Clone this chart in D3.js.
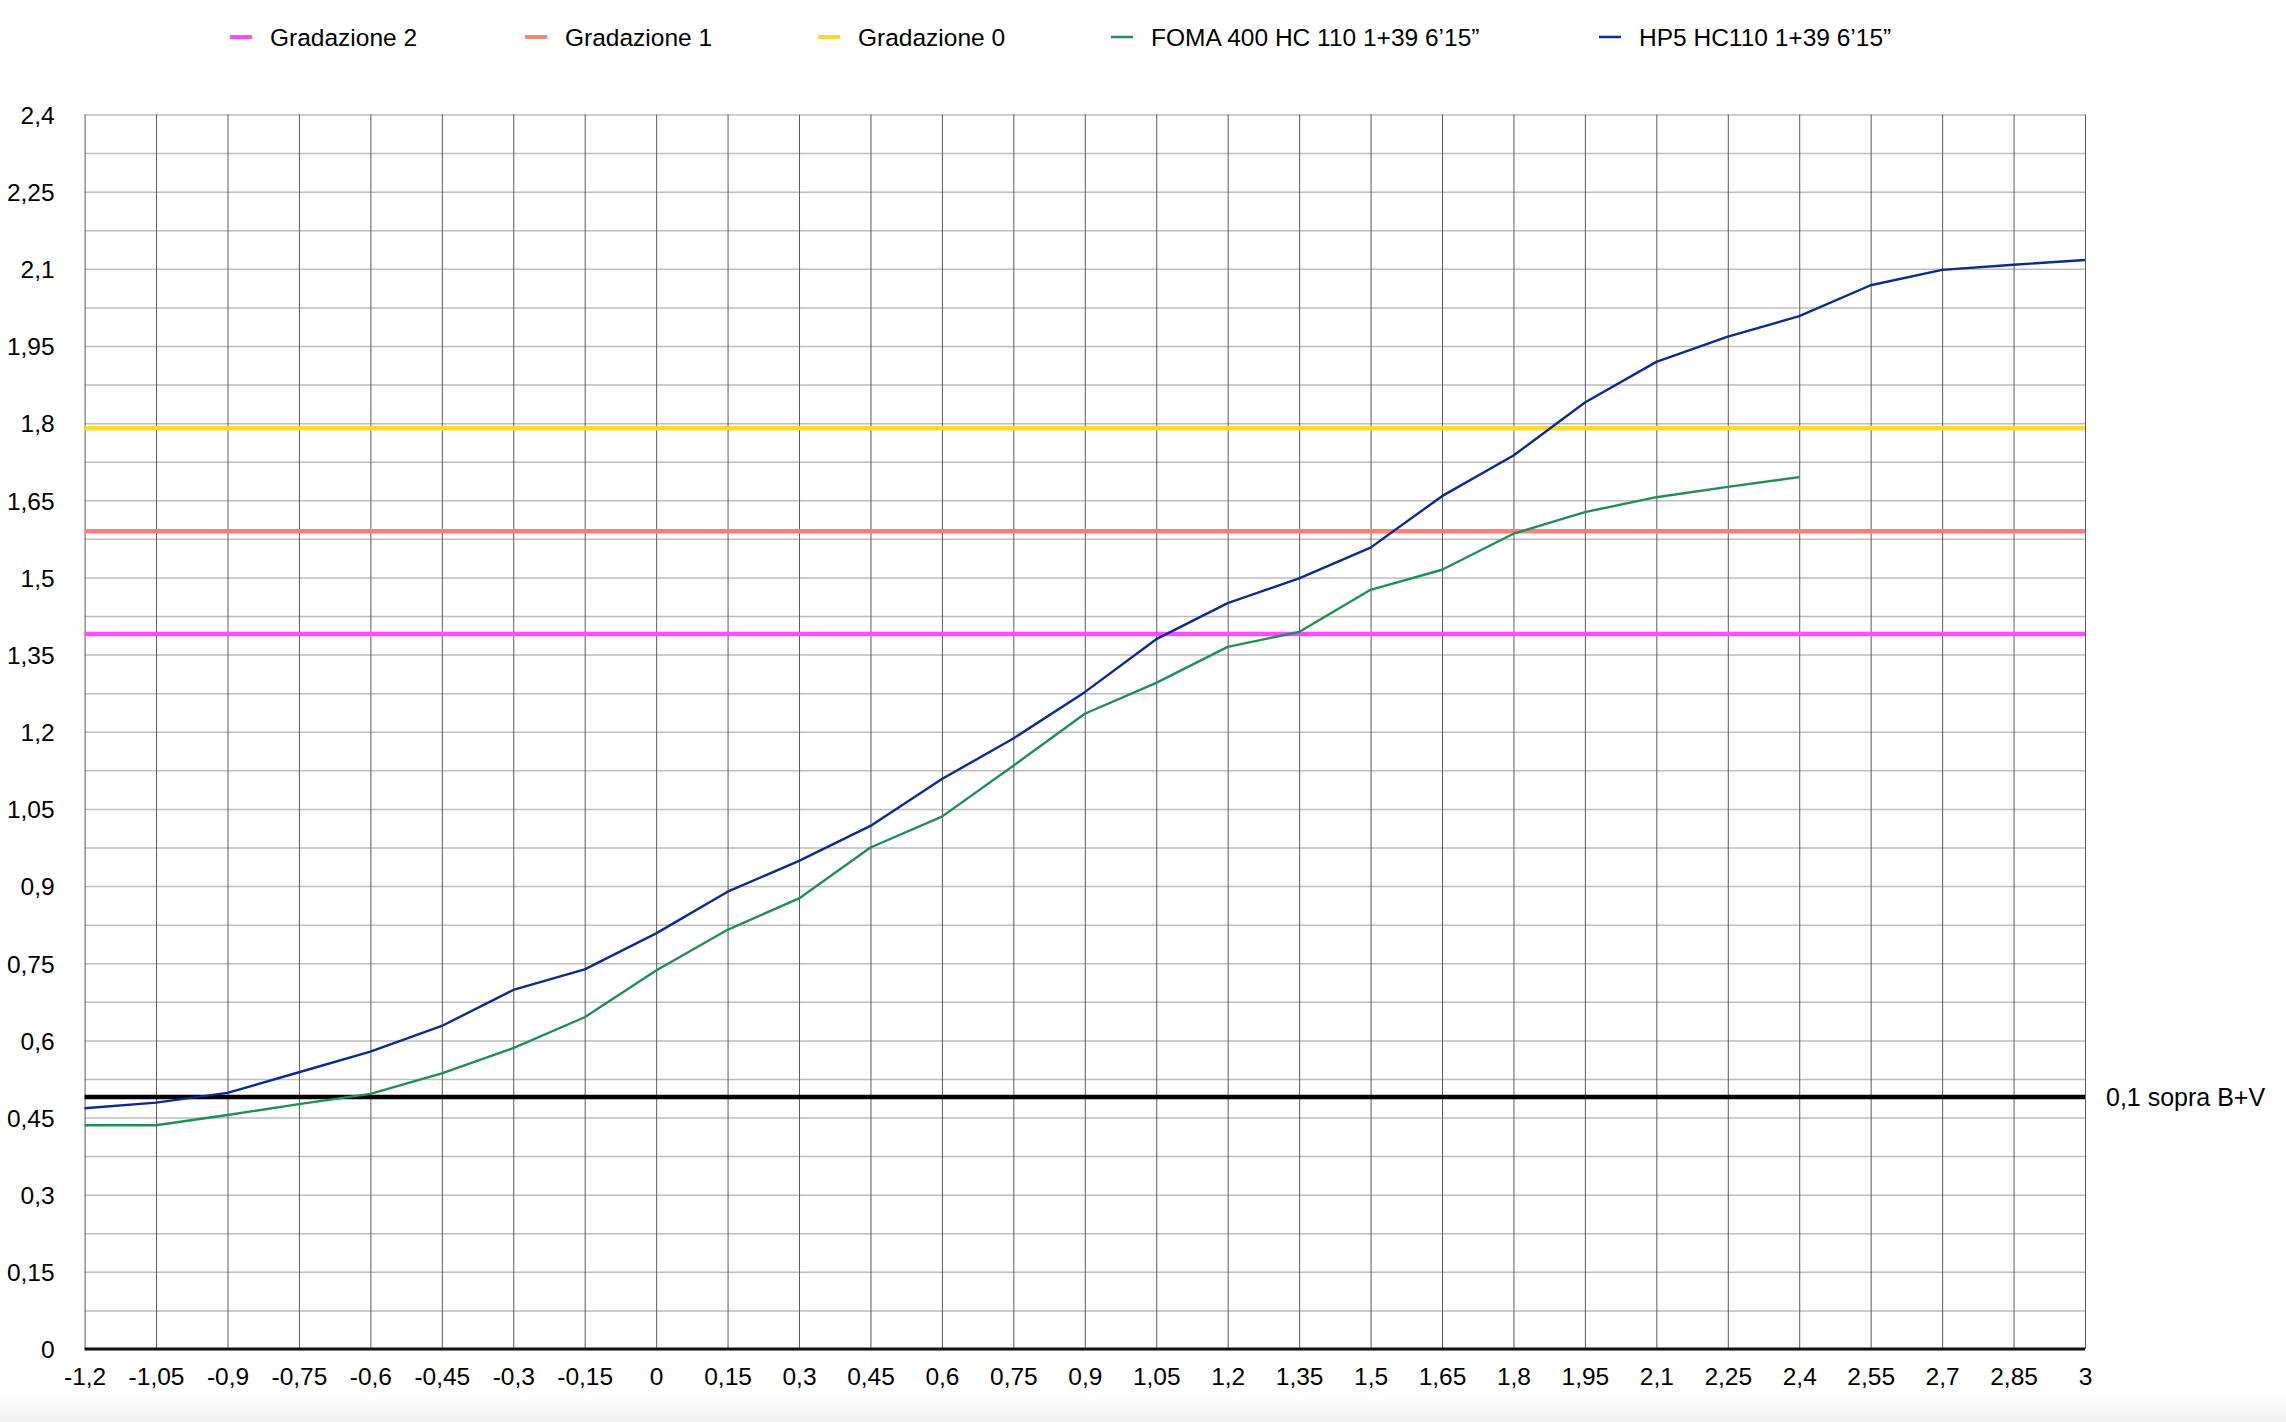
<!DOCTYPE html>
<html>
<head>
<meta charset="utf-8">
<script src="https://cdn.jsdelivr.net/npm/d3@7"></script>
<style>
  html, body { margin: 0; padding: 0; background: #fff; }
  svg { display: block; }
  text { font-family: "Liberation Sans", Helvetica, Arial, sans-serif; }
</style>
</head>
<body>
<div id="chart"></div>
<script>
// ---- DATA ----
const xValues = [-1.2, -1.05, -0.9, -0.75, -0.6, -0.45, -0.3, -0.15, 0, 0.15, 0.3, 0.45, 0.6, 0.75, 0.9,
                 1.05, 1.2, 1.35, 1.5, 1.65, 1.8, 1.95, 2.1, 2.25, 2.4, 2.55, 2.7, 2.85, 3];
const hp5Values = [0.468, 0.479, 0.498, 0.538, 0.578, 0.628, 0.698, 0.738, 0.808, 0.889, 0.949, 1.017, 1.108, 1.187, 1.277,
                   1.380, 1.450, 1.498, 1.558, 1.658, 1.737, 1.840, 1.919, 1.968, 2.008, 2.068, 2.098, 2.108, 2.117];
const fomaValues = [0.435, 0.435, 0.455, 0.476, 0.496, 0.536, 0.585, 0.645, 0.736, 0.815, 0.876, 0.975, 1.035, 1.134, 1.235,
                    1.295, 1.365, 1.394, 1.476, 1.515, 1.585, 1.627, 1.656, 1.676, 1.695];
const gradazione2 = 1.39;
const gradazione1 = 1.59;
const gradazione0 = 1.79;
const bvLevel = 0.49;
const bvLabel = "0,1 sopra B+V";
const xTickLabels = ["-1,2","-1,05","-0,9","-0,75","-0,6","-0,45","-0,3","-0,15","0","0,15","0,3","0,45","0,6","0,75","0,9",
                     "1,05","1,2","1,35","1,5","1,65","1,8","1,95","2,1","2,25","2,4","2,55","2,7","2,85","3"];
const yTicks = [0, 0.15, 0.3, 0.45, 0.6, 0.75, 0.9, 1.05, 1.2, 1.35, 1.5, 1.65, 1.8, 1.95, 2.1, 2.25, 2.4];
const yTickLabels = ["0","0,15","0,3","0,45","0,6","0,75","0,9","1,05","1,2","1,35","1,5","1,65","1,8","1,95","2,1","2,25","2,4"];
const yMinorTicks = [0.075, 0.225, 0.375, 0.525, 0.675, 0.825, 0.975, 1.125, 1.275, 1.425, 1.575, 1.725, 1.875, 2.025, 2.175, 2.325];
const legendLabels = ["Gradazione 2", "Gradazione 1", "Gradazione 0", "FOMA 400 HC 110 1+39 6’15”", "HP5 HC110 1+39 6’15”"];

// ---- LAYOUT ----
const W = 2286, H = 1422;
const mLeft = 84.6, mRight = 2085, mTop = 114.5, mBottom = 1349;
const colors = {
  g2: "#ff4dff", g1: "#ff8078", g0: "#ffd92f", foma: "#1f8f55", hp5: "#0d2a8e"
};

const svg = d3.select("#chart").append("svg").attr("width", W).attr("height", H);

// bottom faint gradient
const defs = svg.append("defs");
const grad = defs.append("linearGradient").attr("id", "bg").attr("x1", 0).attr("y1", 0).attr("x2", 0).attr("y2", 1);
grad.append("stop").attr("offset", "0%").attr("stop-color", "#ffffff");
grad.append("stop").attr("offset", "100%").attr("stop-color", "#f1f1f1");
svg.append("rect").attr("x", 0).attr("y", 1392).attr("width", W).attr("height", H - 1392).attr("fill", "url(#bg)");

const x = d3.scaleLinear().domain([-1.2, 3]).range([mLeft, mRight]);
const y = d3.scaleLinear().domain([0, 2.4]).range([mBottom, mTop]);

// horizontal grid (minor + major), light grey
const hGrid = svg.append("g").attr("transform", `translate(${mLeft},0)`)
  .call(d3.axisLeft(y).tickValues(yTicks.concat(yMinorTicks)).tickSize(-(mRight - mLeft)).tickFormat(""));
hGrid.select(".domain").remove();
hGrid.selectAll("line").attr("stroke", "#bdbdbd").attr("stroke-width", 1.5);

// vertical grid, darker
const vGrid = svg.append("g").attr("transform", `translate(0,${mBottom})`)
  .call(d3.axisBottom(x).tickValues(xValues).tickSize(-(mBottom - mTop)).tickFormat(""));
vGrid.select(".domain").remove();
vGrid.selectAll("line").attr("stroke", "#5a5a5a").attr("stroke-width", 1);

// y labels
const yAxis = svg.append("g").attr("transform", `translate(${mLeft},0)`)
  .call(d3.axisLeft(y).tickValues(yTicks).tickSize(0).tickPadding(30)
        .tickFormat((d, i) => yTickLabels[i]));
yAxis.select(".domain").remove();
yAxis.selectAll("text").attr("font-size", 24.5).attr("fill", "#000")
  .attr("font-family", '"Liberation Sans", Helvetica, Arial, sans-serif')
  .attr("dy", "0.36em");

// x labels
const xAxis = svg.append("g").attr("transform", `translate(0,${mBottom})`)
  .call(d3.axisBottom(x).tickValues(xValues).tickSize(0).tickPadding(0)
        .tickFormat((d, i) => xTickLabels[i]));
xAxis.select(".domain").remove();
xAxis.selectAll("text").attr("font-size", 24.5).attr("fill", "#000")
  .attr("font-family", '"Liberation Sans", Helvetica, Arial, sans-serif')
  .attr("dy", null).attr("y", 36);

// zero axis line
svg.append("line").attr("x1", mLeft).attr("x2", mRight).attr("y1", y(0)).attr("y2", y(0))
  .attr("stroke", "#111").attr("stroke-width", 3);

const domainX = x.domain();
const hline = (val, color, w) => svg.append("path")
  .datum(domainX)
  .attr("d", d3.line().x(d => x(d)).y(() => y(val)))
  .attr("stroke", color).attr("stroke-width", w).attr("fill", "none");

hline(gradazione0, colors.g0, 4.5);
hline(gradazione1, colors.g1, 4.5);
hline(gradazione2, colors.g2, 4.5);
hline(bvLevel, "#000", 4.5);

svg.append("text").attr("x", 2106).attr("y", y(bvLevel) + 9).attr("font-size", 25).attr("fill", "#000").text(bvLabel);

// curves
const line = d3.line().x(d => x(d[0])).y(d => y(d[1]));
svg.append("path").datum(d3.zip(xValues.slice(0, fomaValues.length), fomaValues))
  .attr("d", line).attr("fill", "none").attr("stroke", colors.foma).attr("stroke-width", 2.4).attr("stroke-linejoin", "round");
svg.append("path").datum(d3.zip(xValues, hp5Values))
  .attr("d", line).attr("fill", "none").attr("stroke", colors.hp5).attr("stroke-width", 2.4).attr("stroke-linejoin", "round");

// legend
const legendX = [230, 525, 818, 1111, 1599];
const legendColors = [colors.g2, colors.g1, colors.g0, colors.foma, colors.hp5];
const legendW = [4, 4, 4, 2.5, 2.5];
const lg = svg.append("g");
legendLabels.forEach((lab, i) => {
  lg.append("line").attr("x1", legendX[i]).attr("x2", legendX[i] + 22).attr("y1", 37).attr("y2", 37)
    .attr("stroke", legendColors[i]).attr("stroke-width", legendW[i]);
  lg.append("text").attr("x", legendX[i] + 40).attr("y", 46).attr("font-size", 24.5).attr("fill", "#000").text(lab);
});
</script>
</body>
</html>
